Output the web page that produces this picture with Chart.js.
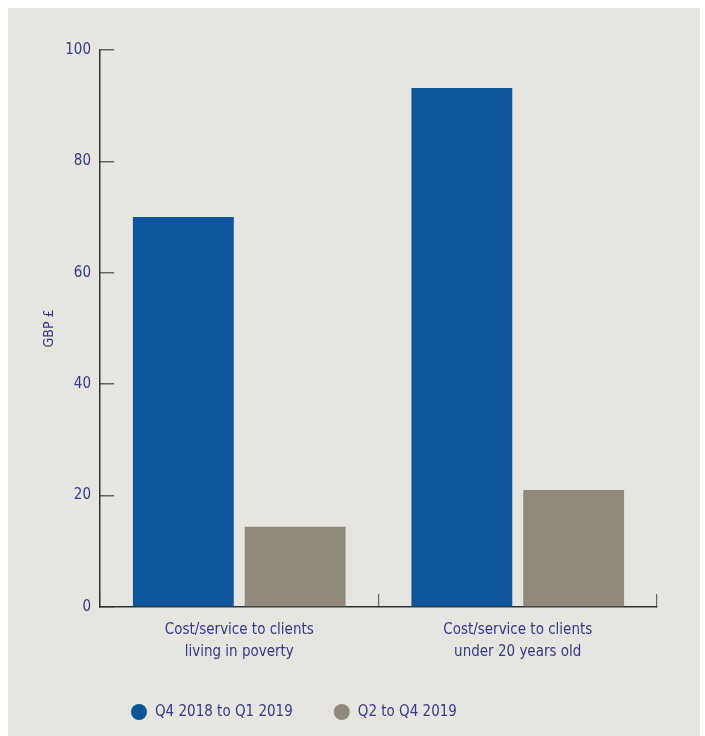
<!DOCTYPE html>
<html>
<head>
<meta charset="utf-8">
<script src="https://cdn.jsdelivr.net/npm/chart.js@4/dist/chart.umd.min.js"></script>
<style>
  html, body { margin: 0; padding: 0; background: #ffffff; }
  #wrap { width: 705px; height: 736px; position: relative; }
</style>
</head>
<body>
<div id="wrap"><canvas id="c" width="705" height="736"></canvas></div>
<script>
const categories = [
  ["Cost/service to clients", "living in poverty"],
  ["Cost/service to clients", "under 20 years old"]
];
const seriesNames = ["Q4 2018 to Q1 2019", "Q2 to Q4 2019"];
const seriesQ4toQ1 = [70, 93.2];
const seriesQ2toQ4 = [14.4, 21];
const yTicks = [0, 20, 40, 60, 80, 100];
const yTitle = "GBP £";

const FONT = "'Liberation Sans Narrow', 'DejaVu Sans Condensed', 'Roboto Condensed', sans-serif";
const TEXT = "#34398a";
const BLUE = "#0d5699";
const GREY = "#918a7c";

const bgPlugin = {
  id: 'bg',
  beforeDraw(chart) {
    const ctx = chart.ctx;
    ctx.save();
    ctx.fillStyle = '#ffffff';
    ctx.fillRect(0, 0, chart.width, chart.height);
    ctx.fillStyle = '#e6e5e0';
    ctx.fillRect(8, 8, 692, chart.height - 8);
    ctx.restore();
  }
};

const legendPlugin = {
  id: 'customLegend',
  afterDraw(chart) {
    const ctx = chart.ctx;
    ctx.save();
    ctx.font = '15px ' + FONT;
    ctx.textBaseline = 'middle';
    ctx.textAlign = 'left';
    let x = chart.chartArea.left + 31;
    const y = 712;
    chart.data.datasets.forEach(ds => {
      ctx.fillStyle = ds.backgroundColor;
      ctx.beginPath();
      ctx.arc(x + 8, y, 8, 0, Math.PI * 2);
      ctx.fill();
      ctx.fillStyle = TEXT;
      ctx.fillText(ds.label, x + 24, y);
      x += 24 + ctx.measureText(ds.label).width + 41;
    });
    ctx.restore();
  }
};

new Chart(document.getElementById('c'), {
  type: 'bar',
  data: {
    labels: categories,
    datasets: [
      { label: seriesNames[0], data: seriesQ4toQ1, backgroundColor: BLUE,
        categoryPercentage: 0.803, barPercentage: 0.902 },
      { label: seriesNames[1], data: seriesQ2toQ4, backgroundColor: GREY,
        categoryPercentage: 0.803, barPercentage: 0.902 }
    ]
  },
  options: {
    responsive: false,
    animation: false,
    events: [],
    layout: { padding: { left: 0, right: 48, top: 50, bottom: 69 } },
    plugins: {
      legend: { display: false },
      tooltip: { enabled: false }
    },
    scales: {
      x: {
        grid: {
          display: true, offset: true, drawOnChartArea: false, drawTicks: true,
          tickLength: -13, color: '#666666', lineWidth: 1.2
        },
        border: { display: true, color: '#333333', width: 1.5 },
        ticks: {
          color: TEXT, padding: 25,
          font: { family: FONT, size: 15, lineHeight: 1.47 }
        },
        afterFit(scale) { scale.height = 60; }
      },
      y: {
        min: 0, max: 100,
        afterBuildTicks(scale) { scale.ticks = yTicks.map(v => ({ value: v })); },
        grid: {
          display: true, drawOnChartArea: false, drawTicks: true,
          tickLength: -14, color: '#666666', lineWidth: 1.5
        },
        border: { display: true, color: '#333333', width: 1.5 },
        ticks: {
          color: TEXT, padding: 23,
          font: { family: FONT, size: 15 }
        },
        title: {
          display: true, text: yTitle, color: TEXT,
          font: { family: FONT, size: 14, lineHeight: 1.2 },
          padding: { top: 41, bottom: 0 }
        },
        afterFit(scale) { scale.width = 100; }
      }
    }
  },
  plugins: [bgPlugin, legendPlugin]
});
</script>
</body>
</html>
